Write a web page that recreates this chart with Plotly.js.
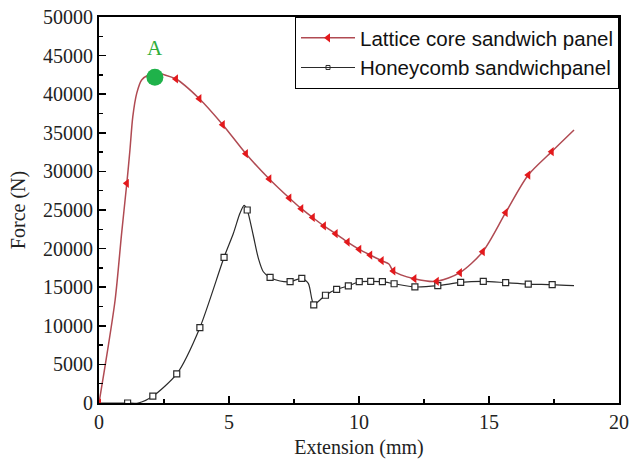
<!DOCTYPE html>
<html>
<head>
<meta charset="utf-8">
<script src="https://cdn.plot.ly/plotly-3.0.1.min.js"></script>
<style>html,body{margin:0;padding:0;background:#fff;}#chart{width:630px;height:459px;}</style>
</head>
<body>
<div id="chart"></div>
<script>
// Lattice core sandwich panel: curve points
const latticeX = [0, 0.23, 0.62, 0.87, 1.07, 1.19, 1.3, 1.45, 1.64, 1.9, 2.2, 2.96, 3.86, 4.76, 5.65, 6.55, 7.32, 7.78, 8.22, 8.65, 9.1, 9.56, 10.01, 10.43, 10.87, 11.15, 11.32, 12.13, 12.99, 13.88, 14.76, 15.64, 16.51, 17.41, 18.27];
const latticeY = [0, 4700, 13340, 21980, 28460, 32770, 37090, 40100, 41840, 42490, 42700, 41970, 39420, 36050, 32290, 29020, 26550, 25170, 24030, 22930, 21930, 20850, 19910, 19170, 18430, 18000, 17100, 16100, 15760, 16880, 19600, 24650, 29530, 32550, 35360];
// Lattice marker points
const latticeMarkX = [0, 1.07, 2.96, 3.86, 4.76, 5.65, 6.55, 7.32, 7.78, 8.22, 8.65, 9.1, 9.56, 10.01, 10.43, 10.87, 11.32, 12.13, 12.99, 13.88, 14.76, 15.64, 16.51, 17.41];
const latticeMarkY = [0, 28460, 41970, 39420, 36050, 32290, 29020, 26550, 25170, 24030, 22930, 21930, 20850, 19910, 19170, 18430, 17100, 16100, 15760, 16880, 19600, 24650, 29530, 32550];

// Honeycomb sandwich panel: curve points
const honeyX = [0, 1.1, 1.5, 2.07, 2.99, 3.88, 4.81, 5.17, 5.42, 5.58, 5.7, 5.93, 6.13, 6.32, 6.58, 6.96, 7.35, 7.8, 8.05, 8.18, 8.26, 8.5, 8.71, 9.14, 9.59, 10.01, 10.45, 10.9, 11.35, 12.15, 13.03, 13.91, 14.78, 15.64, 16.51, 17.43, 18.27];
const honeyY = [0, 0, 0, 880, 3760, 9760, 18870, 21980, 24570, 25600, 25000, 21760, 18740, 17000, 16260, 15800, 15710, 16150, 15500, 13560, 12720, 13340, 13960, 14730, 15160, 15710, 15760, 15710, 15450, 15030, 15200, 15630, 15760, 15590, 15410, 15330, 15200];
// Honeycomb marker points
const honeyMarkX = [1.1, 2.07, 2.99, 3.88, 4.81, 5.7, 6.58, 7.35, 7.8, 8.26, 8.71, 9.14, 9.59, 10.01, 10.45, 10.9, 11.35, 12.15, 13.03, 13.91, 14.78, 15.64, 16.51, 17.43];
const honeyMarkY = [0, 880, 3760, 9760, 18870, 25000, 16260, 15710, 16150, 12720, 13960, 14730, 15160, 15710, 15760, 15710, 15450, 15030, 15200, 15630, 15760, 15590, 15410, 15330];

// Peak point A
const peakX = [2.15];
const peakY = [42200];
const peakLabel = 'A';
const peakLabelY = 45950;

const xTicks = [0, 5, 10, 15, 20];
const yTicks = [0, 5000, 10000, 15000, 20000, 25000, 30000, 35000, 40000, 45000, 50000];

const redLine = '#b04a52';
const redMark = '#e3191c';
const blackLine = '#2a2a2a';

const traces = [
  // legend entries
  {x: [null], y: [null], type: 'scatter', mode: 'lines+markers', name: 'Lattice core sandwich panel',
   line: {color: redLine, width: 1.5}, marker: {symbol: 'triangle-left', size: 8, color: redMark}},
  {x: [null], y: [null], type: 'scatter', mode: 'lines+markers', name: 'Honeycomb sandwichpanel',
   line: {color: blackLine, width: 1.2}, marker: {symbol: 'square-open', size: 4, color: blackLine}},
  // curves
  {x: honeyX, y: honeyY, type: 'scatter', mode: 'lines', showlegend: false,
   line: {color: blackLine, width: 1.2, shape: 'spline', smoothing: 0.7}},
  {x: honeyMarkX, y: honeyMarkY, type: 'scatter', mode: 'markers', showlegend: false,
   marker: {symbol: 'square', size: 6, color: '#ffffff', line: {color: blackLine, width: 1.2}}},
  {x: latticeX, y: latticeY, type: 'scatter', mode: 'lines', showlegend: false,
   line: {color: redLine, width: 1.5, shape: 'spline', smoothing: 0.8}},
  {x: latticeMarkX, y: latticeMarkY, type: 'scatter', mode: 'markers', showlegend: false,
   marker: {symbol: 'triangle-left', size: 8, color: redMark}},
  {x: peakX, y: peakY, type: 'scatter', mode: 'markers', showlegend: false,
   marker: {symbol: 'circle', size: 17, color: '#1fb24a'}}
];

const axisFont = {family: '"Liberation Serif", "Times New Roman", serif', size: 20, color: '#222'};

const layout = {
  width: 630, height: 459,
  margin: {l: 99, r: 11, t: 17, b: 56, pad: 0},
  paper_bgcolor: '#ffffff', plot_bgcolor: '#ffffff',
  showlegend: true,
  legend: {x: 1, xanchor: 'right', y: 1, yanchor: 'top', bgcolor: '#ffffff',
    bordercolor: '#000', borderwidth: 1, itemwidth: 54, tracegroupgap: 0,
    font: {family: '"Liberation Sans", Arial, sans-serif', size: 20.5, color: '#111'}},
  xaxis: {range: [0, 20], tickvals: xTicks, ticktext: xTicks.map(String),
    showgrid: false, zeroline: false, showline: true, linecolor: '#000', linewidth: 2, mirror: true,
    ticks: 'inside', ticklen: 7, tickwidth: 1.5, tickcolor: '#000',
    minor: {dtick: 2.5, ticks: 'inside', ticklen: 4, tickwidth: 1.5, tickcolor: '#000', showgrid: false},
    tickfont: axisFont,
    title: {text: 'Extension (mm)', font: axisFont, standoff: 11}},
  yaxis: {range: [0, 50000], tickvals: yTicks, ticktext: yTicks.map(String),
    showgrid: false, zeroline: false, showline: true, linecolor: '#000', linewidth: 2, mirror: true,
    ticks: 'inside', ticklen: 7, tickwidth: 1.5, tickcolor: '#000',
    minor: {dtick: 2500, ticks: 'inside', ticklen: 4, tickwidth: 1.5, tickcolor: '#000', showgrid: false},
    tickfont: axisFont,
    title: {text: 'Force (N)', font: axisFont, standoff: 12}},
  annotations: [{x: peakX[0], y: peakLabelY, xref: 'x', yref: 'y', text: peakLabel, showarrow: false,
    font: {family: '"Liberation Serif", "Times New Roman", serif', size: 21, color: '#2fae3a'}}]
};

Plotly.newPlot('chart', traces, layout, {displayModeBar: false, staticPlot: true});
</script>
</body>
</html>
